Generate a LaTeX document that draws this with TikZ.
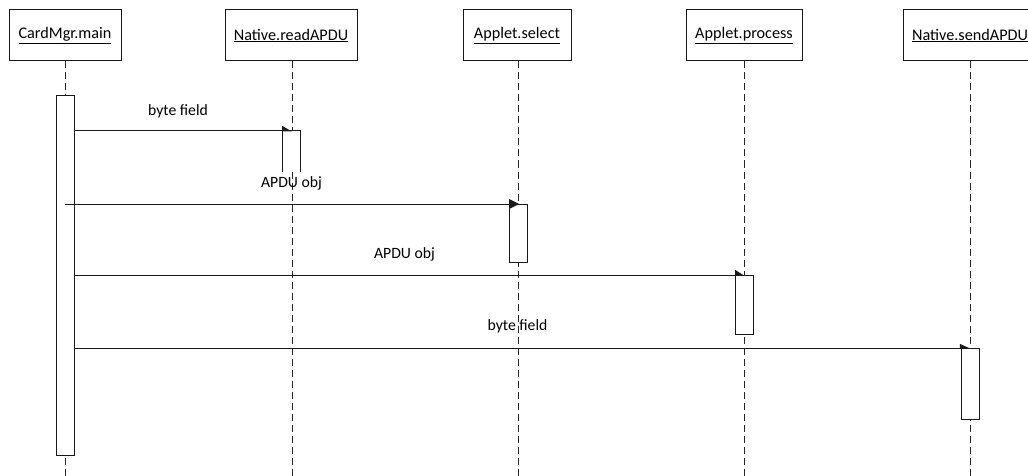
\documentclass[tikz,border=0pt]{standalone}
\usepackage{fontspec}
\setmainfont{Carlito}
\usetikzlibrary{arrows.meta}
\begin{document}
\begin{tikzpicture}[x=1pt,y=-1pt,
  every node/.style={font=\fontsize{15.7}{18}\selectfont, text=black},
  head/.style={draw=black!90, line width=1pt, fill=white, minimum height=51pt,
    inner xsep=0pt, anchor=north, font=\fontsize{16.2}{19}\selectfont},
  lifeline/.style={draw=black!85, line width=1pt, dash pattern=on 7pt off 4pt},
  act/.style={draw=black!90, line width=1pt, fill=white},
  msg/.style={draw=black!90, line width=1pt},
  lbl/.style={inner sep=0pt}
]
\useasboundingbox (0,0) rectangle (1028,476);

% participants
\node[head, minimum width=112pt] (h1) at (65,9.5)  {\underline{CardMgr.main}};
\node[head, minimum width=132pt] (h2) at (291,9.5) {\underline{Native.readAPDU}};
\node[head, minimum width=108pt] (h3) at (517,9.5) {\underline{Applet.select}};
\node[head, minimum width=116pt] (h4) at (744,9.5) {\underline{Applet.process}};
\node[head, minimum width=134pt] (h5) at (970,9.5) {\underline{Native.sendAPDU}};

% lifeline ends
\coordinate (e1) at (65,476);
\coordinate (e2) at (292,476);
\coordinate (e3) at (518,476);
\coordinate (e4) at (744,476);
\coordinate (e5) at (970,476);

\draw[lifeline] (h1.south -| e1) -- (e1);
\draw[lifeline] (h2.south -| e2) -- (e2);
\draw[lifeline] (h3.south -| e3) -- (e3);
\draw[lifeline] (h4.south -| e4) -- (e4);
\draw[lifeline] (h5.south -| e5) -- (e5);

% activation bars
\draw[act] (56,96) rectangle (74,455);
\fill[white] (282,131) rectangle (300,172);
\draw[act] (282,172) -- (282,131) -- (300,131) -- (300,172);
\draw[act] (509,204) rectangle (527,262);
\draw[act] (735,275) rectangle (753,334);
\draw[act] (961,348) rectangle (979,419);

% message endpoints
\coordinate (s1) at (74,131);  \coordinate (t1) at (292,131);
\coordinate (s2) at (65,204);  \coordinate (t2) at (519,204);
\coordinate (s3) at (74,275);  \coordinate (t3) at (744,275);
\coordinate (s4) at (74,348);  \coordinate (t4) at (970,348);

% messages
\draw[msg, -{Triangle[left, length=9pt, width=10pt]}] (s1) -- (t1);
\draw[msg, -{Triangle[length=10pt, width=10pt]}] (s2) -- (t2);
\draw[msg, -{Triangle[left, length=8pt, width=10pt]}] (s3) -- (t3);
\draw[msg, -{Triangle[left, length=9pt, width=8pt]}] (s4) -- (t4);

% message labels
\node[lbl] (m1) at (178,111.5) {byte field};
\node[lbl] (m2) at (291.5,183) {APDU obj};
\node[lbl] (m3) at (404.5,254.5) {APDU obj};
\node[lbl] (m4) at (517.5,326) {byte field};
\end{tikzpicture}
\end{document}
